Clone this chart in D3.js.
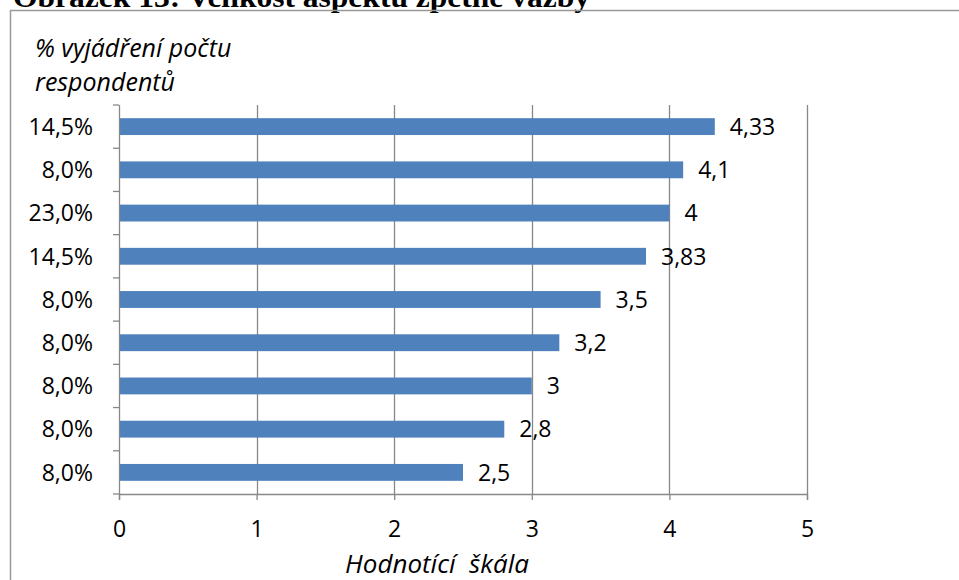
<!DOCTYPE html>
<html><head><meta charset="utf-8">
<script src="https://cdn.jsdelivr.net/npm/d3@7"></script>
<style>html,body{margin:0;padding:0;background:#fff;}svg{display:block;}</style>
</head><body>
<svg id="c" width="959" height="580"></svg>
<script>
const categories = ["14,5%","8,0%","23,0%","14,5%","8,0%","8,0%","8,0%","8,0%","8,0%"];
const values = [4.33, 4.1, 4, 3.83, 3.5, 3.2, 3, 2.8, 2.5];
const valueLabels = ["4,33","4,1","4","3,83","3,5","3,2","3","2,8","2,5"];
const xTicks = [0,1,2,3,4,5];
const titleText = "Obrázek 13: Velikost aspektu zpětné vazby";
const yTitle = ["% vyjádření počtu","respondentů"];
const xTitle = "Hodnotící  škála";

const svg = d3.select("#c");
const font = "'Open Sans', sans-serif";
const fs = 23;
const pL = 119, pR = 807, pT = 105, pB = 494;

svg.append("text").attr("x",13).attr("y",7).attr("font-family","'Liberation Serif', serif")
  .attr("font-weight","bold").attr("font-size",30).attr("fill","#000")
  .attr("textLength",577).attr("lengthAdjust","spacingAndGlyphs").text(titleText);

svg.append("rect").attr("x",10.5).attr("y",10.5).attr("width",1000).attr("height",1000)
  .attr("fill","none").attr("stroke","#999").attr("stroke-width",1.5);

const x = d3.scaleLinear().domain([0,5]).range([pL,pR]);
const idx = categories.map((d,i)=>i);
const y = d3.scaleBand().domain(idx).range([pT,pB]).paddingInner(0.61).paddingOuter(0.305);
const yb = d3.scaleBand().domain(idx).range([pT,pB]);

// gridlines
svg.append("g").selectAll("line").data(xTicks.filter(d=>d>0)).join("line")
  .attr("x1",d=>Math.round(x(d))+0.5).attr("x2",d=>Math.round(x(d))+0.5)
  .attr("y1",pT).attr("y2",pB).attr("stroke","#888").attr("stroke-width",1.3);

// bars
svg.append("g").selectAll("rect").data(values).join("rect")
  .attr("x",x(0)).attr("y",(d,i)=>y(i)).attr("width",d=>x(d)-x(0)).attr("height",y.bandwidth())
  .attr("fill","#4F81BD");

// data labels
svg.append("g").selectAll("text").data(values).join("text")
  .attr("x",d=>x(d)+15).attr("y",(d,i)=>y(i)+y.bandwidth()/2).attr("dy","0.36em")
  .attr("font-family",font).attr("font-size",fs).attr("fill","#000")
  .text((d,i)=>valueLabels[i]);

// x axis
const xa = svg.append("g").attr("transform",`translate(0,${pB})`)
  .call(d3.axisBottom(x).tickValues(xTicks).tickFormat(d3.format("d")).tickSize(6).tickPadding(21));
xa.selectAll("path,line").attr("stroke","#888").attr("stroke-width",1.3);
xa.selectAll("text").attr("font-family",font).attr("font-size",fs).attr("fill","#000");

// y axis: line + boundary ticks
svg.append("line").attr("x1",pL+0.5).attr("x2",pL+0.5).attr("y1",pT).attr("y2",pB)
  .attr("stroke","#888").attr("stroke-width",1.3);
const bounds = idx.map(i=>yb(i)).concat([pB]);
svg.append("g").selectAll("line").data(bounds).join("line")
  .attr("x1",pL-6).attr("x2",pL).attr("y1",d=>d).attr("y2",d=>d)
  .attr("stroke","#888").attr("stroke-width",1.3);
svg.append("g").selectAll("text").data(categories).join("text")
  .attr("x",93).attr("y",(d,i)=>y(i)+y.bandwidth()/2).attr("dy","0.36em")
  .attr("text-anchor","end").attr("font-family",font).attr("font-size",fs).attr("fill","#000")
  .text(d=>d);

// axis titles
svg.append("g").selectAll("text").data(yTitle).join("text")
  .attr("x",35).attr("y",(d,i)=>57+i*34).attr("font-family",font).attr("font-style","italic")
  .attr("font-size",25).attr("fill","#000").text(d=>d);
svg.append("text").attr("x",437).attr("y",573).attr("text-anchor","middle")
  .attr("font-family",font).attr("font-style","italic").attr("font-size",26).attr("fill","#000")
  .style("white-space","pre").text(xTitle);
</script>
</body></html>
